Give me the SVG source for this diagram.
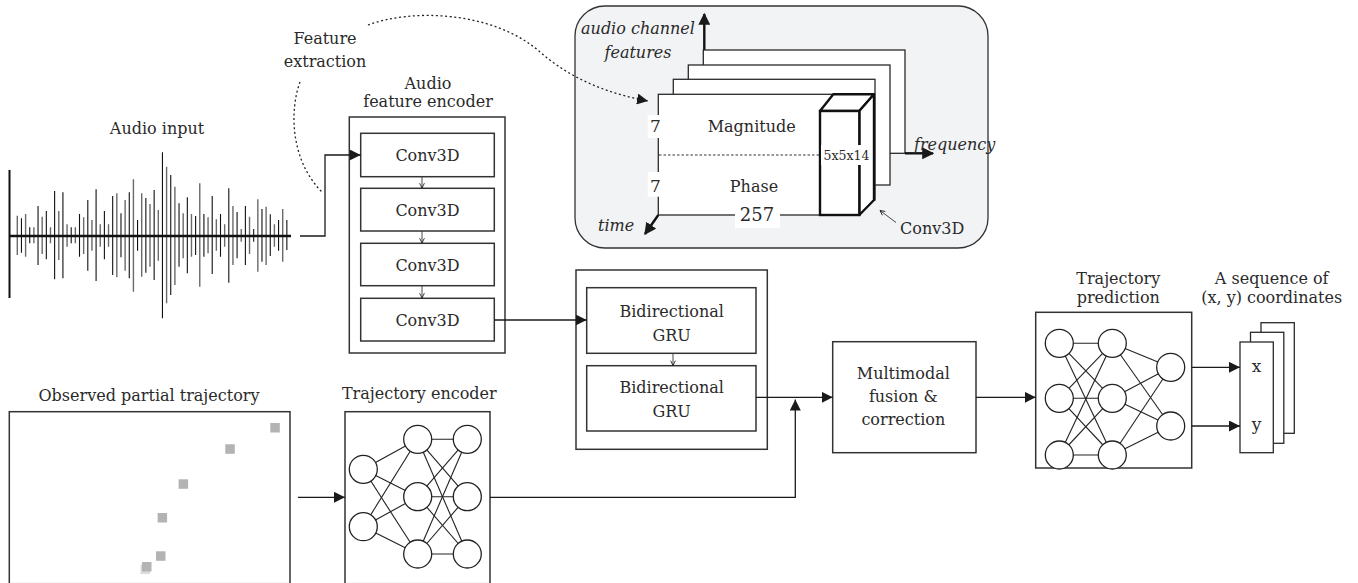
<svg xmlns="http://www.w3.org/2000/svg" width="1358" height="583" viewBox="0 0 1358 583">
  <defs>
    <marker id="arr" viewBox="0 0 10 10" refX="10" refY="5" markerWidth="11" markerHeight="11" markerUnits="userSpaceOnUse" orient="auto">
      <path d="M0,0 L10,5 L0,10 Z" fill="#1a1a1a"/>
    </marker>
    <marker id="arrBig" viewBox="0 0 10 10" refX="9" refY="5" markerWidth="12" markerHeight="12" markerUnits="userSpaceOnUse" orient="auto">
      <path d="M0,0 L10,5 L0,10 Z" fill="#1a1a1a"/>
    </marker>
    <marker id="tick" viewBox="0 0 10 10" refX="9" refY="5" markerWidth="6" markerHeight="6" markerUnits="userSpaceOnUse" orient="auto">
      <path d="M1,1 L9,5 L1,9" fill="none" stroke="#1a1a1a" stroke-width="1.4"/>
    </marker>
    <style>
      text { font-family: "DejaVu Serif", "Liberation Serif", serif; fill: #2a2a2a; font-size: 16px; }
      .mid { text-anchor: middle; }
      .it { font-style: italic; }
      .box { fill: #ffffff; stroke: #333333; stroke-width: 1.5; }
      .page { fill: #ffffff; stroke: #2a2a2a; stroke-width: 1.3; }
      .wire { fill: none; stroke: #1a1a1a; stroke-width: 1.3; }
      .thin { fill: none; stroke: #333333; stroke-width: 0.9; }
      .dots { fill: none; stroke: #222222; stroke-width: 1.3; stroke-dasharray: 2 2.6; }
      .axis { fill: none; stroke: #111111; stroke-width: 2.4; }
      .neuron { fill: #ffffff; stroke: #222222; stroke-width: 1.3; }
      .syn { stroke: #222222; stroke-width: 1.1; }
      .pt { fill: #b3b3b3; }
    </style>
  </defs>

  <!-- audio waveform -->
  <g id="audio-input">
    <text class="mid" x="157" y="134">Audio input</text>
    <path d="M17.3 215.7V255 M25.6 214V256.7 M33.89 227.3V243.3 M42.18 216.7V254 M50.48 227.3V243.3 M58.77 211V260 M67.06 224.3V246.7 M75.36 227.3V243.3 M83.65 217.3V254 M91.95 220V250.7 M100.24 224.3V246.7 M108.53 224.3V246.7 M116.83 193.3V277.3 M125.12 200V270.7 M133.42 179.3V291.7 M141.71 193.3V276.7 M150 204V266.7 M158.3 210V260.7 M166.59 166.7V303.3 M174.89 186.7V285 M183.18 213.3V258.3 M191.47 214V256.7 M199.77 183.3V286.7 M208.06 217.3V253.3 M216.36 219.3V250.7 M224.65 224.3V246.7 M232.94 206V265 M241.24 229V241.7 M249.53 216.7V254 M257.83 199.3V271.7 M266.12 206.7V265 M274.41 224.3V246.7 M282.71 209V261.7" stroke="#6a6a6a" stroke-width="1.4" fill="none"/>
    <path d="M21.45 218.3V252.7 M29.74 227.3V243.3 M38.04 206V265 M46.33 211V259.3 M54.62 191V279.3 M62.92 192.3V278.3 M71.21 227.3V243.3 M79.51 214V256.7 M87.8 200V270.7 M96.09 189.3V281 M104.39 211V259.3 M112.68 196V275 M120.98 213.3V257.3 M129.27 192.3V278.3 M137.56 220V250.7 M145.86 198V272.7 M154.15 190V280 M162.45 152.3V318.3 M170.74 175V295 M179.03 203.3V266.7 M187.33 197.3V273.3 M195.62 216V255 M203.92 214V256.7 M212.21 196V274 M220.5 214V256.7 M228.8 188.3V282.7 M237.09 212V258.3 M245.39 206V265 M253.68 229V241.7 M261.97 209V261.7 M270.27 214.3V256 M278.56 220V250.7 M286.85 220V250" stroke="#111111" stroke-width="1.1" fill="none"/>
    <line x1="9.5" y1="170" x2="9.5" y2="298" stroke="#111" stroke-width="2"/>
    <line x1="9" y1="236" x2="291" y2="236" stroke="#111" stroke-width="2.6"/>
  </g>

  <!-- feature extraction annotation -->
  <g id="feature-extraction">
    <text class="mid" x="325" y="44">Feature</text>
    <text class="mid" x="325" y="67">extraction</text>
  </g>

  <!-- time-frequency feature panel -->
  <g id="feature-panel">
    <rect x="575" y="6" width="413" height="242" rx="30" fill="#f2f3f5" stroke="#333" stroke-width="1.3"/>
    <line class="axis" x1="704.3" y1="52" x2="704.3" y2="14" marker-end="url(#arrBig)"/>
    <rect class="page" x="703.3" y="50" width="201.7" height="103.3"/>
    <rect class="page" x="688.3" y="65" width="201.7" height="120"/>
    <rect class="page" x="673.3" y="79.3" width="201.7" height="120.7"/>
    <rect class="page" x="658.3" y="94.3" width="201.7" height="120.7"/>
    <line class="axis" x1="905" y1="153.3" x2="933" y2="153.3" marker-end="url(#arrBig)"/>
    <line class="axis" x1="658.3" y1="215" x2="645" y2="234" marker-end="url(#arrBig)"/>
    <line x1="659" y1="155" x2="820" y2="155" stroke="#333" stroke-width="1" stroke-dasharray="2.5 2"/>
    <!-- convolution kernel cube -->
    <polygon points="820,111 833.3,94.3 874,94.3 859.3,111" fill="#fff" stroke="#111" stroke-width="2.4" stroke-linejoin="round"/>
    <polygon points="859.3,111 874,94.3 874,200 859.3,215" fill="#fff" stroke="#111" stroke-width="2.4" stroke-linejoin="round"/>
    <rect x="820" y="111" width="39.3" height="104" fill="#fff" stroke="#111" stroke-width="2.4"/>
    <rect x="821" y="145" width="51" height="20" fill="#fff"/>
    <text class="mid" x="846.5" y="160" style="font-size:12.5px">5x5x14</text>
    <rect x="647.7" y="115" width="15.6" height="23" fill="#fff"/>
    <text class="mid" x="655.5" y="131.7" style="font-size:17px">7</text>
    <rect x="647.7" y="172" width="15.6" height="24.7" fill="#fff"/>
    <text class="mid" x="655.5" y="191.7" style="font-size:17px">7</text>
    <text class="mid" x="751.7" y="131.7">Magnitude</text>
    <text class="mid" x="754" y="191.7">Phase</text>
    <rect x="735" y="202" width="45" height="26" fill="#fff"/>
    <text class="mid" x="757" y="221" style="font-size:18px">257</text>
    <text class="mid it" x="638" y="34">audio channel</text>
    <text class="mid it" x="638" y="58">features</text>
    <text class="it" x="598" y="231">time</text>
    <text class="it" x="914" y="149.5">frequency</text>
    <line class="thin" x1="896" y1="222.5" x2="880" y2="210.5" marker-end="url(#tick)"/>
    <text x="900" y="234">Conv3D</text>
  </g>

  <!-- audio feature encoder -->
  <g id="audio-encoder">
    <text class="mid" x="428" y="89">Audio</text>
    <text class="mid" x="428" y="107">feature encoder</text>
    <rect class="box" x="349.3" y="117" width="155.7" height="236"/>
    <rect class="box" x="360.7" y="133.3" width="133.6" height="43.4"/>
    <text class="mid" x="427.5" y="161">Conv3D</text>
    <rect class="box" x="360.7" y="188.3" width="133.6" height="42.7"/>
    <text class="mid" x="427.5" y="216">Conv3D</text>
    <rect class="box" x="360.7" y="243.3" width="133.6" height="42.4"/>
    <text class="mid" x="427.5" y="271">Conv3D</text>
    <rect class="box" x="360.7" y="298.3" width="133.6" height="42.7"/>
    <text class="mid" x="427.5" y="326">Conv3D</text>
  </g>

  <!-- bidirectional GRU stack -->
  <g id="gru-block">
    <rect class="box" x="576" y="270" width="191.3" height="179.3"/>
    <rect class="box" x="586.7" y="287.7" width="169.3" height="65.6"/>
    <text class="mid" x="671.7" y="316.7">Bidirectional</text>
    <text class="mid" x="671.7" y="341">GRU</text>
    <rect class="box" x="586.7" y="365.7" width="169.3" height="65.3"/>
    <text class="mid" x="671.7" y="393.3">Bidirectional</text>
    <text class="mid" x="671.7" y="417.3">GRU</text>
  </g>

  <!-- fusion block -->
  <g id="fusion">
    <rect class="box" x="832.7" y="341.7" width="143.3" height="111"/>
    <text class="mid" x="903.3" y="379.3">Multimodal</text>
    <text class="mid" x="903.3" y="402">fusion &amp;</text>
    <text class="mid" x="903.3" y="425">correction</text>
  </g>

  <!-- trajectory prediction network -->
  <g id="trajectory-prediction">
    <text class="mid" x="1118.3" y="284">Trajectory</text>
    <text class="mid" x="1118.3" y="302.7">prediction</text>
    <rect class="box" x="1035.7" y="312.3" width="156" height="155.7"/>
    <g class="syn">
      <line x1="1059.3" y1="343.3" x2="1112.3" y2="343.3"/>
      <line x1="1059.3" y1="343.3" x2="1112.3" y2="398.3"/>
      <line x1="1059.3" y1="343.3" x2="1112.3" y2="455"/>
      <line x1="1059.3" y1="398.3" x2="1112.3" y2="343.3"/>
      <line x1="1059.3" y1="398.3" x2="1112.3" y2="398.3"/>
      <line x1="1059.3" y1="398.3" x2="1112.3" y2="455"/>
      <line x1="1059.3" y1="455" x2="1112.3" y2="343.3"/>
      <line x1="1059.3" y1="455" x2="1112.3" y2="398.3"/>
      <line x1="1059.3" y1="455" x2="1112.3" y2="455"/>
      <line x1="1112.3" y1="343.3" x2="1170.7" y2="367.3"/>
      <line x1="1112.3" y1="343.3" x2="1170.7" y2="426"/>
      <line x1="1112.3" y1="398.3" x2="1170.7" y2="367.3"/>
      <line x1="1112.3" y1="398.3" x2="1170.7" y2="426"/>
      <line x1="1112.3" y1="455" x2="1170.7" y2="367.3"/>
      <line x1="1112.3" y1="455" x2="1170.7" y2="426"/>
    </g>
    <circle class="neuron" cx="1059.3" cy="343.3" r="14"/>
    <circle class="neuron" cx="1059.3" cy="398.3" r="14"/>
    <circle class="neuron" cx="1059.3" cy="455" r="14"/>
    <circle class="neuron" cx="1112.3" cy="343.3" r="14"/>
    <circle class="neuron" cx="1112.3" cy="398.3" r="14"/>
    <circle class="neuron" cx="1112.3" cy="455" r="14"/>
    <circle class="neuron" cx="1170.7" cy="367.3" r="14"/>
    <circle class="neuron" cx="1170.7" cy="426" r="14"/>
  </g>

  <!-- output coordinate sequence -->
  <g id="coordinates">
    <text class="mid" x="1271.7" y="284">A sequence of</text>
    <text class="mid" x="1271.7" y="302.7">(x, y) coordinates</text>
    <rect class="page" x="1261" y="322.7" width="33.3" height="110.6"/>
    <rect class="page" x="1250.5" y="332.3" width="33.3" height="111"/>
    <rect class="page" x="1240" y="342" width="33.3" height="110.7"/>
    <text class="mid" x="1256.5" y="372" style="font-size:17px">x</text>
    <text class="mid" x="1256.5" y="430" style="font-size:17px">y</text>
  </g>

  <!-- observed trajectory -->
  <g id="observed-trajectory">
    <text class="mid" x="149" y="400.7">Observed partial trajectory</text>
    <rect class="box" x="9.3" y="411.7" width="280.7" height="172"/>
    <rect x="140.5" y="564.5" width="9.5" height="9.5" fill="#dcdcdc"/>
    <rect class="pt" x="142" y="562" width="9.5" height="9.5"/>
    <rect class="pt" x="156" y="551.3" width="9.5" height="9.5"/>
    <rect class="pt" x="157.6" y="513" width="9.5" height="9.5"/>
    <rect class="pt" x="178.6" y="479.3" width="9.5" height="9.5"/>
    <rect class="pt" x="225.3" y="444.3" width="9.5" height="9.5"/>
    <rect class="pt" x="270.3" y="423" width="9.5" height="9.5"/>
  </g>

  <!-- trajectory encoder -->
  <g id="trajectory-encoder">
    <text class="mid" x="419.3" y="399.3">Trajectory encoder</text>
    <rect class="box" x="345" y="411.7" width="145" height="172"/>
    <g class="syn">
      <line x1="363.3" y1="469.3" x2="417.7" y2="439.3"/>
      <line x1="363.3" y1="469.3" x2="417.7" y2="496.7"/>
      <line x1="363.3" y1="469.3" x2="417.7" y2="554"/>
      <line x1="363.3" y1="526.7" x2="417.7" y2="439.3"/>
      <line x1="363.3" y1="526.7" x2="417.7" y2="496.7"/>
      <line x1="363.3" y1="526.7" x2="417.7" y2="554"/>
      <line x1="417.7" y1="439.3" x2="467.3" y2="439.3"/>
      <line x1="417.7" y1="439.3" x2="467.3" y2="496.7"/>
      <line x1="417.7" y1="439.3" x2="467.3" y2="554"/>
      <line x1="417.7" y1="496.7" x2="467.3" y2="439.3"/>
      <line x1="417.7" y1="496.7" x2="467.3" y2="496.7"/>
      <line x1="417.7" y1="496.7" x2="467.3" y2="554"/>
      <line x1="417.7" y1="554" x2="467.3" y2="439.3"/>
      <line x1="417.7" y1="554" x2="467.3" y2="496.7"/>
      <line x1="417.7" y1="554" x2="467.3" y2="554"/>
    </g>
    <circle class="neuron" cx="363.3" cy="469.3" r="14"/>
    <circle class="neuron" cx="363.3" cy="526.7" r="14"/>
    <circle class="neuron" cx="417.7" cy="439.3" r="14"/>
    <circle class="neuron" cx="417.7" cy="496.7" r="14"/>
    <circle class="neuron" cx="417.7" cy="554" r="14"/>
    <circle class="neuron" cx="467.3" cy="439.3" r="14"/>
    <circle class="neuron" cx="467.3" cy="496.7" r="14"/>
    <circle class="neuron" cx="467.3" cy="554" r="14"/>
  </g>

  <!-- connectors -->
  <g id="connectors">
    <path class="dots" d="M300,82 C289,112 291,162 323,193"/>
    <path class="dots" d="M368,25 C410,9 492,10 540,52 C572,80 610,94 648,101" marker-end="url(#arr)"/>
    <path class="wire" d="M300,236 H325 V155 H360.7" marker-end="url(#arr)"/>
    <line class="thin" x1="422" y1="177" x2="422" y2="188" marker-end="url(#tick)"/>
    <line class="thin" x1="422" y1="231" x2="422" y2="243" marker-end="url(#tick)"/>
    <line class="thin" x1="422" y1="286" x2="422" y2="298" marker-end="url(#tick)"/>
    <path class="wire" d="M494.3,320 H586.7" marker-end="url(#arr)"/>
    <line class="thin" x1="673" y1="353.5" x2="673" y2="365.5" marker-end="url(#tick)"/>
    <path class="wire" d="M756,397.3 H832.7" marker-end="url(#arr)"/>
    <path class="wire" d="M490,497.3 H795.3 V399.5" marker-end="url(#arr)"/>
    <path class="wire" d="M976,397.3 H1035.7" marker-end="url(#arr)"/>
    <path class="wire" d="M1191.7,367.3 H1240" marker-end="url(#arr)"/>
    <path class="wire" d="M1191.7,426 H1240" marker-end="url(#arr)"/>
    <path class="wire" d="M298,497.3 H345" marker-end="url(#arr)"/>
  </g>
</svg>
